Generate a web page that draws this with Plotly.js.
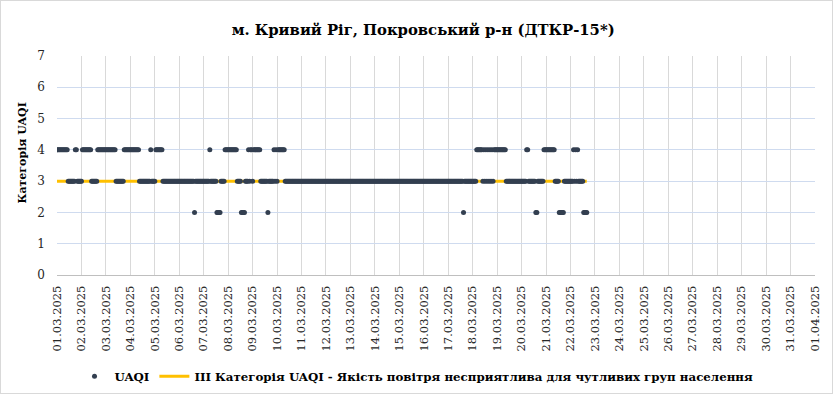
<!DOCTYPE html>
<html>
<head>
<meta charset="utf-8">
<script src="https://cdn.plot.ly/plotly-3.0.1.min.js"></script>
<style>
html,body{margin:0;padding:0;background:#fff;}
#wrap{position:relative;width:833px;height:394px;}
#frame{position:absolute;left:0;top:0;width:831px;height:392px;border:1px solid #d9d9d9;pointer-events:none;}
</style>
</head>
<body>
<div id="wrap"><div id="chart"></div><div id="frame"></div></div>
<script>
// Hourly UAQI category, one string per day (24 hours), starting 01.03.2025 00:00
const dayLabels = ['01.03','02.03','03.03','04.03','05.03','06.03','07.03','08.03','09.03','10.03','11.03',
  '12.03','13.03','14.03','15.03','16.03','17.03','18.03','19.03','20.03','21.03','22.03'];
const hourlyUAQI = [
  '444444444443333333443333', // 01.03
  '344444444433333344444444', // 02.03
  '444444444433333333444444', // 03.03
  '444444444333333333334333', // 04.03
  '344444443333333333333333', // 05.03
  '333333333333333233333333', // 06.03
  '333333433333322223333444', // 07.03
  '444444444333322223334344', // 08.03
  '344444443333333233333434', // 09.03
  '344444443333333333333333', // 10.03
  '333333333333333333333333', // 11.03
  '333333333333333333333333', // 12.03
  '333333333333333333333333', // 13.03
  '333333333333333333333333', // 14.03
  '333333333333333333333333', // 15.03
  '333333333333333333333333', // 16.03
  '333333333333333233333333', // 17.03
  '333344444434343434343444', // 18.03
  '444444444333333333333333', // 19.03
  '333334433333332233333344', // 20.03
  '444444444333322222333333', // 21.03
  '33343434333332222'         // 22.03
];
const thresholdCategory = 3;
const seriesNames = ['UAQI', 'III Категорія UAQI - Якість повітря несприятлива для чутливих груп населення'];
const titleText = 'м. Кривий Ріг, Покровський р-н (ДТКР-15*)';
const yTitle = 'Категорія UAQI';

const xs = [], ys = [], yt = [];
hourlyUAQI.forEach((s, d) => {
  s.split('').forEach((c, h) => {
    xs.push(Date.UTC(2025, 2, 1 + d, h));
    ys.push(Number(c));
    yt.push(thresholdCategory);
  });
});

const serif = 'DejaVu Serif';
const traces = [
  {x: xs, y: yt, type: 'scatter', mode: 'lines', name: seriesNames[1],
   line: {color: '#FFC000', width: 3}, legendrank: 2, hoverinfo: 'skip'},
  {x: xs, y: ys, type: 'scatter', mode: 'markers', name: seriesNames[0],
   marker: {color: '#333F50', size: 5}, legendrank: 1}
];
const layout = {
  width: 833, height: 394,
  margin: {l: 57, r: 18, t: 56, b: 119},
  paper_bgcolor: '#fff', plot_bgcolor: '#fff',
  font: {family: serif, size: 11.5, color: '#262626'},
  title: {text: titleText, font: {family: serif, size: 14.8, weight: 700, color: '#000'},
    xref: 'container', x: 0.508, xanchor: 'center', yref: 'container', y: 0.924, yanchor: 'middle'},
  xaxis: {type: 'date', range: [Date.UTC(2025,2,1), Date.UTC(2025,3,1)],
    dtick: 86400000, tick0: Date.UTC(2025,2,1), tickformat: '%d.%m.%Y', tickangle: -90,
    showgrid: true, gridcolor: '#d9d9d9', gridwidth: 1,
    showline: true, linecolor: '#bfbfbf', linewidth: 1,
    ticks: '', zeroline: false, ticklabelstandoff: 5,
    tickfont: {family: serif, size: 11.5, color: '#262626'}},
  yaxis: {range: [0, 7], dtick: 1, tick0: 0,
    showgrid: true, gridcolor: '#cfdbef', gridwidth: 1, zeroline: false,
    showline: false, ticks: '', ticklabelstandoff: 11,
    tickfont: {family: serif, size: 12, color: '#262626'}},
  annotations: [{text: yTitle, textangle: -90, showarrow: false,
    xref: 'paper', x: -0.046, xanchor: 'center', yref: 'paper', y: 0.555, yanchor: 'middle',
    font: {family: serif, size: 11, weight: 700, color: '#000'}}],
  showlegend: true,
  legend: {orientation: 'h', xref: 'container', x: 0.5, xanchor: 'center',
    yref: 'container', y: 0.045, yanchor: 'middle',
    font: {family: serif, size: 11.8, weight: 700, color: '#000'}, itemwidth: 30, tracegroupgap: 0}
};
Plotly.newPlot('chart', traces, layout, {displayModeBar: false, staticPlot: true});
</script>
</body>
</html>
